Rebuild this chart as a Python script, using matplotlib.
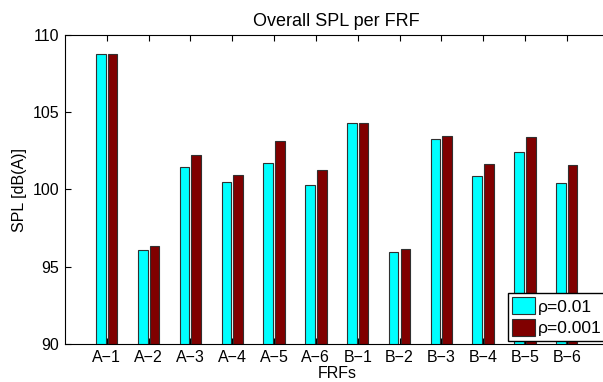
import numpy as np
import matplotlib
matplotlib.use("Agg")
import matplotlib.pyplot as plt

# données
frfs = ["A\u22121", "A\u22122", "A\u22123", "A\u22124", "A\u22125", "A\u22126",
        "B\u22121", "B\u22122", "B\u22123", "B\u22124", "B\u22125", "B\u22126"]
spl_rho_001 = [108.73, 96.09, 101.47, 100.46, 101.69, 100.27,
               104.27, 95.94, 103.26, 100.87, 102.40, 100.42]
spl_rho_0001 = [108.75, 96.37, 102.23, 100.91, 103.11, 101.28,
                104.27, 96.18, 103.43, 101.67, 103.41, 101.60]
labels = ["\u03c1=0.01", "\u03c1=0.001"]

plt.rcParams['font.family'] = ['Liberation Sans', 'DejaVu Sans']
plt.rcParams['font.size'] = 11.5

fig = plt.figure(figsize=(6.03, 3.82), dpi=100)
ax = fig.add_axes([65 / 603, 1 - 344.3 / 382, 543.6 / 603, 309.6 / 382])

x = np.arange(1, len(frfs) + 1)
largeur = 0.23
ax.bar(x - 0.14, spl_rho_001, largeur, color='#00ffff',
       edgecolor='#303030', linewidth=0.8, label=labels[0])
ax.bar(x + 0.14, spl_rho_0001, largeur, color='#800000',
       edgecolor='#303030', linewidth=0.8, label=labels[1])

ax.set_xlim(0, 13)
ax.set_ylim(90, 110)
ax.set_xticks(x)
ax.set_xticklabels(frfs)
ax.set_yticks([90, 95, 100, 105, 110])
ax.tick_params(direction='in', top=True, right=True, length=4, width=0.8, pad=4)
for s in ax.spines.values():
    s.set_linewidth(0.8)

ax.set_title("Overall SPL per FRF", fontsize=13, pad=6)
ax.set_xlabel("FRFs", labelpad=1)
ax.set_ylabel("SPL [dB(A)]", labelpad=4)

ax.legend(loc='lower right', bbox_to_anchor=(0.9945, 0.012), frameon=True, fancybox=False,
          edgecolor='black', framealpha=1, fontsize=12.5, borderpad=0.25, handlelength=1.3,
          handleheight=1.1, handletextpad=0.15, labelspacing=0.25, borderaxespad=0)

fig.savefig("out.png", dpi=100)
